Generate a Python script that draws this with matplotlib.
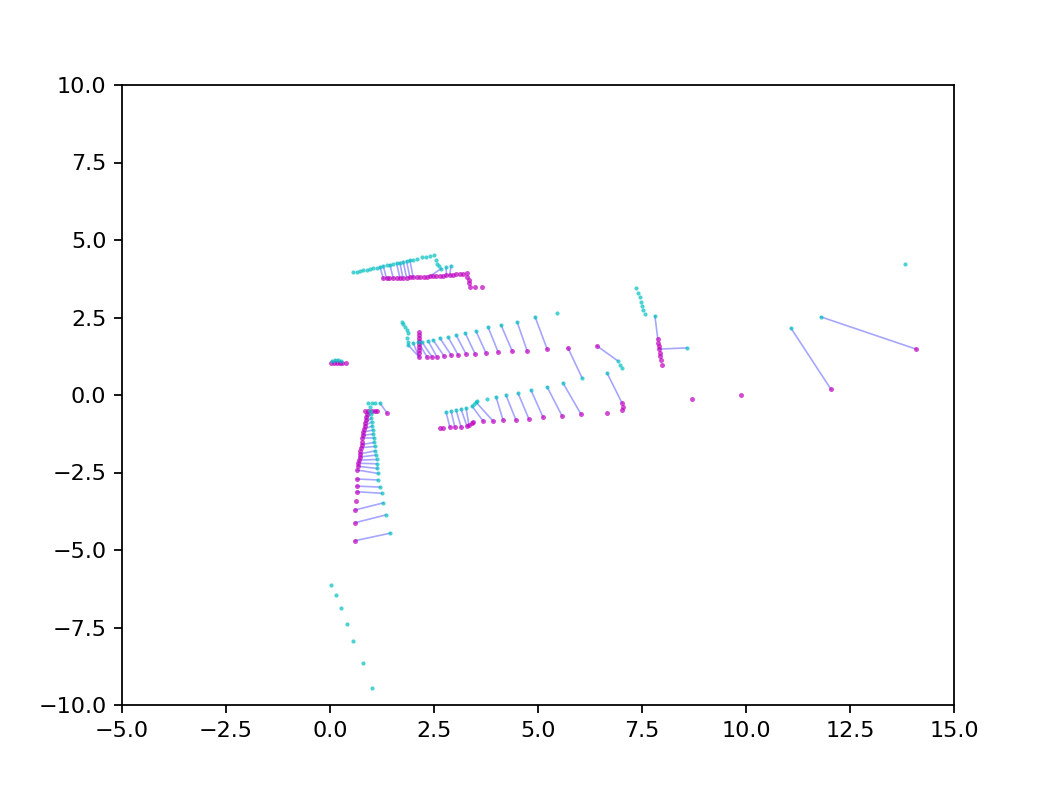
import numpy as np
import matplotlib
matplotlib.use("Agg")
import matplotlib.pyplot as plt

# --- source scan (cyan) / target scan (magenta) / matches, grouped by wall ---
top_src_x = [0.56, 0.64, 0.72, 0.80, 0.88, 0.96, 1.04, 1.12, 1.20, 1.28, 1.36, 1.44, 1.52, 1.60, 1.68,
             1.76, 1.84, 1.92, 2.00, 2.10, 2.20, 2.31, 2.40, 2.51, 2.55, 2.58, 2.63, 2.68, 2.79, 2.91]
top_src_y = [3.96, 3.98, 4.00, 4.02, 4.04, 4.06, 4.09, 4.11, 4.14, 4.16, 4.18, 4.20, 4.23, 4.25, 4.27,
             4.30, 4.32, 4.34, 4.36, 4.40, 4.44, 4.46, 4.48, 4.51, 4.35, 4.24, 4.16, 4.08, 4.12, 4.17]
top_dst_x = [1.28, 1.36, 1.43, 1.52, 1.60, 1.68, 1.75, 1.84, 1.92, 2.00, 2.08, 2.16, 2.25, 2.32, 2.40,
             2.48, 2.56, 2.64, 2.71, 2.80, 2.88, 2.96, 3.04, 3.12, 3.20, 3.29, 3.30, 3.33, 3.33, 3.37,
             3.49, 3.65]
top_dst_y = [3.76, 3.76, 3.77, 3.77, 3.78, 3.78, 3.79, 3.79, 3.80, 3.80, 3.81, 3.81, 3.82, 3.82, 3.83,
             3.83, 3.84, 3.85, 3.85, 3.86, 3.87, 3.88, 3.89, 3.90, 3.91, 3.93, 3.82, 3.71, 3.60, 3.49,
             3.49, 3.49]
top_pairs = [(8, 0), (9, 1), (11, 3), (13, 5), (14, 6), (15, 7), (16, 8), (17, 9),
             (27, 14), (28, 19), (29, 20)]

left_src_x = [0.91, 1.02, 1.08, 1.20,
              0.96, 0.97, 0.98, 0.99, 1.00, 1.01, 1.03, 1.04, 1.05, 1.06, 1.08, 1.09, 1.10, 1.12,
              1.13, 1.14, 1.16,
              1.15, 1.20, 1.24, 1.28, 1.34, 1.44]
left_src_y = [-0.26, -0.25, -0.26, -0.26,
              -0.38, -0.50, -0.62, -0.75, -0.87, -1.00, -1.13, -1.26, -1.40, -1.53, -1.66, -1.80,
              -1.94, -2.08, -2.22, -2.37, -2.53,
              -2.74, -2.97, -3.17, -3.48, -3.87, -4.46]
left_dst_x = [0.84, 0.92, 1.00, 1.08, 1.13, 1.37,
              0.88, 0.87, 0.86, 0.84, 0.83, 0.82, 0.80, 0.79, 0.78, 0.77, 0.76, 0.74, 0.73, 0.72,
              0.71, 0.70, 0.68, 0.67, 0.65,
              0.64, 0.64, 0.64, 0.63, 0.60, 0.60, 0.60]
left_dst_y = [-0.52, -0.52, -0.53, -0.52, -0.53, -0.58,
              -0.60, -0.70, -0.80, -0.90, -1.00, -1.10, -1.20, -1.30, -1.40, -1.50, -1.60, -1.70,
              -1.80, -1.90, -2.00, -2.10, -2.20, -2.30, -2.42,
              -2.71, -2.94, -3.12, -3.41, -3.71, -4.12, -4.70]
left_pairs = [(3, 5), (5, 7), (6, 8), (7, 9), (8, 10), (9, 11), (10, 12), (11, 13), (12, 14),
              (13, 16), (14, 17), (15, 19), (16, 20), (17, 21), (18, 22), (19, 23), (20, 24),
              (21, 25), (22, 26), (23, 27), (24, 29), (25, 30), (26, 31)]

small_src_x = [0.05, 0.12, 0.19, 0.26]
small_src_y = [1.10, 1.13, 1.13, 1.10]
small_dst_x = [0.02, 0.09, 0.16, 0.23, 0.30, 0.38]
small_dst_y = [1.03, 1.03, 1.02, 1.03, 1.03, 1.03]
small_pairs = [(0, 1), (1, 2), (2, 3), (3, 4)]

mid_src_x = [1.73, 1.75, 1.80, 1.85, 1.88, 1.85, 1.88, 1.88,
             2.00, 2.12, 2.21, 2.36, 2.48, 2.64, 2.84, 3.03, 3.25, 3.51, 3.80, 4.11, 4.50, 4.93, 5.46]
mid_src_y = [2.35, 2.29, 2.19, 2.10, 2.00, 1.84, 1.71, 1.61,
             1.68, 1.71, 1.71, 1.74, 1.77, 1.84, 1.87, 1.94, 2.00, 2.06, 2.19, 2.26, 2.35, 2.52, 2.65]
mid_dst_x = [2.14, 2.14, 2.14, 2.13, 2.14, 2.14, 2.14, 2.14,
             2.14, 2.33, 2.45, 2.57, 2.74, 2.91, 3.08, 3.27, 3.49, 3.75, 4.04, 4.38, 4.74, 5.22]
mid_dst_y = [2.03, 1.93, 1.84, 1.74, 1.64, 1.54, 1.45, 1.35,
             1.23, 1.23, 1.23, 1.23, 1.26, 1.29, 1.29, 1.32, 1.32, 1.35, 1.39, 1.42, 1.42, 1.48]
mid_pairs = [(7, 8), (8, 8), (9, 9), (10, 10), (11, 11), (12, 12), (13, 13), (14, 14), (15, 15),
             (16, 16), (17, 17), (18, 18), (19, 19), (20, 20), (21, 21)]

low_src_x = [2.79, 2.91, 3.03, 3.15, 3.27, 3.41, 3.46, 3.51, 3.53, 3.77, 3.99, 4.23, 4.52, 4.83,
             5.22, 5.60, 6.06]
low_src_y = [-0.55, -0.52, -0.48, -0.45, -0.42, -0.35, -0.29, -0.23, -0.19, -0.13, -0.06, 0.00,
             0.06, 0.16, 0.26, 0.39, 0.55]
low_dst_x = [2.64, 2.72, 2.88, 3.00, 3.15, 3.29, 3.34, 3.41, 3.44, 3.68, 3.92, 4.16, 4.47, 4.78,
             5.12, 5.58, 6.03, 5.72]
low_dst_y = [-1.06, -1.06, -1.03, -1.03, -1.03, -1.00, -0.97, -0.90, -0.87, -0.84, -0.84, -0.81,
             -0.81, -0.77, -0.71, -0.68, -0.61, 1.52]
low_pairs = [(0, 2), (1, 3), (2, 4), (3, 5), (4, 6), (5, 9), (7, 10), (10, 11), (11, 12),
             (12, 13), (13, 14), (14, 15), (15, 16), (16, 17)]

right_src_x = [7.36, 7.40, 7.45, 7.48, 7.50, 7.52, 7.57, 7.81, 8.58, 6.92, 6.97, 7.02, 6.66,
               11.08, 11.80, 13.82]
right_src_y = [3.45, 3.29, 3.16, 3.00, 2.87, 2.74, 2.61, 2.55, 1.52, 1.10, 0.97, 0.87, 0.71,
               2.16, 2.52, 4.23]
right_dst_x = [6.42, 7.88, 7.88, 7.91, 7.91, 7.93, 7.93, 7.96, 7.98, 6.66, 7.02, 7.04, 7.02,
               8.70, 9.88, 12.04, 14.09]
right_dst_y = [1.58, 1.81, 1.68, 1.58, 1.48, 1.35, 1.26, 1.13, 0.97, -0.58, -0.48, -0.39, -0.26,
               -0.13, 0.00, 0.19, 1.48]
right_pairs = [(7, 1), (8, 4), (9, 0), (12, 12), (13, 15), (14, 16)]

far_src_x = [0.02, 0.14, 0.26, 0.41, 0.55, 0.79, 1.01]
far_src_y = [-6.13, -6.45, -6.87, -7.39, -7.94, -8.65, -9.45]

groups = [
    (top_src_x, top_src_y, top_dst_x, top_dst_y, top_pairs),
    (left_src_x, left_src_y, left_dst_x, left_dst_y, left_pairs),
    (small_src_x, small_src_y, small_dst_x, small_dst_y, small_pairs),
    (mid_src_x, mid_src_y, mid_dst_x, mid_dst_y, mid_pairs),
    (low_src_x, low_src_y, low_dst_x, low_dst_y, low_pairs),
    (right_src_x, right_src_y, right_dst_x, right_dst_y, right_pairs),
    (far_src_x, far_src_y, [], [], []),
]

fig = plt.figure(figsize=(1041 / 160, 786 / 160), dpi=160)
ax = fig.add_axes([122 / 1041, 1 - 705 / 786, 832 / 1041, 620 / 786])

for sx, sy, dx, dy, pairs in groups:
    for i, j in pairs:
        ax.plot([sx[i], dx[j]], [sy[i], dy[j]], '-', color='b', alpha=0.35, linewidth=0.75)
    if dx:
        ax.scatter(dx, dy, s=5, color='m', alpha=0.7, linewidths=0, zorder=3)
    ax.scatter(sx, sy, s=3.5, color='c', alpha=0.7, linewidths=0, zorder=3)

ax.set_xlim(-5, 15)
ax.set_ylim(-10, 10)

fig.savefig('out.png', dpi=160)
